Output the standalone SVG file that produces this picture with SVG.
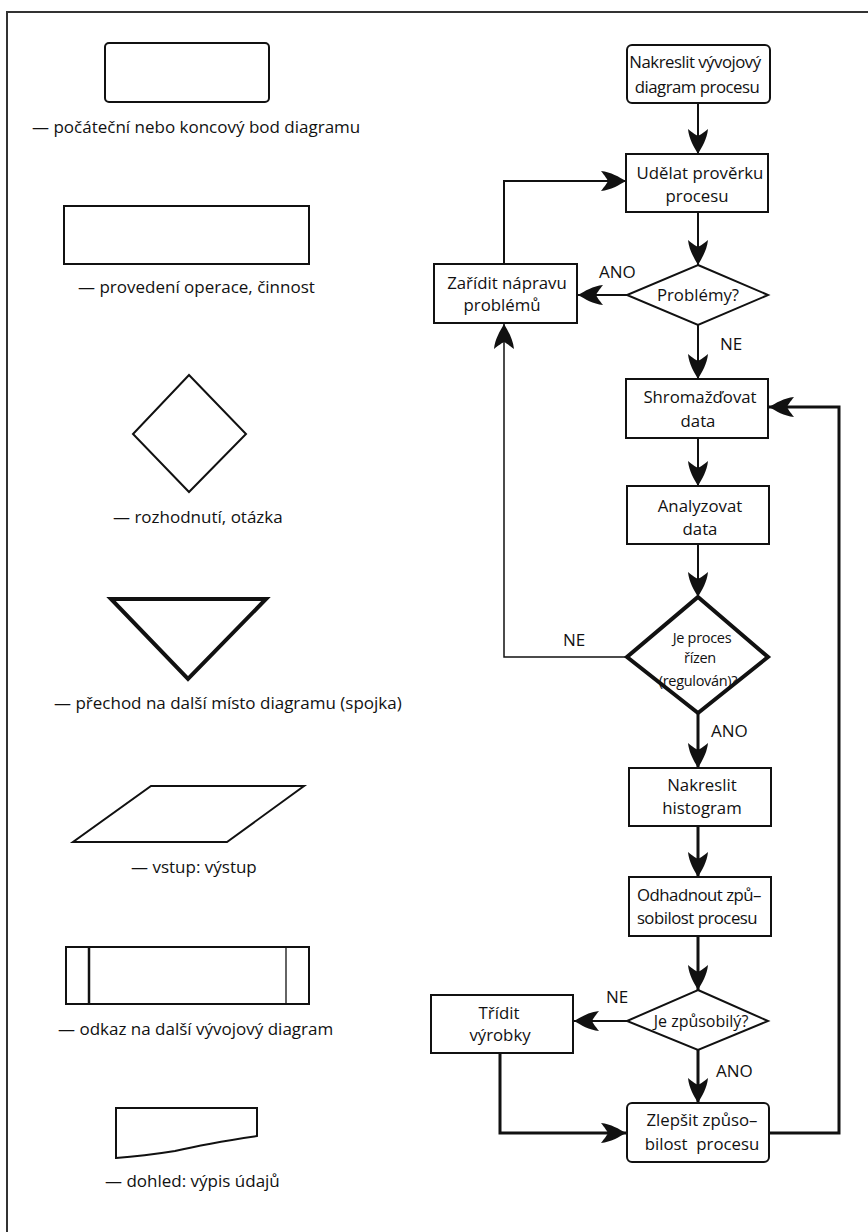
<svg xmlns="http://www.w3.org/2000/svg" width="868" height="1232" viewBox="0 0 868 1232">
  <style>
    .shape { fill: #fff; stroke: #111; stroke-width: 2; }
    .thick { fill: #fff; stroke: #111; stroke-width: 4; stroke-linejoin: miter; }
    .lbl { font-family: "Open Sans", "Liberation Sans", sans-serif; font-size: 17px; fill: #111; }
    .node { font-family: "Open Sans", "Liberation Sans", sans-serif; font-size: 16.8px; fill: #111; text-anchor: middle; }
    .tight { letter-spacing: -0.5px; }
    .small { font-size: 14.5px; letter-spacing: -0.3px; }
    .wire { fill: none; stroke: #111; stroke-width: 2; }
    .wire-thin { fill: none; stroke: #111; stroke-width: 1.5; }
    .wire-bold { fill: none; stroke: #111; stroke-width: 3; }
  </style>
  <defs>
    <marker id="arr" viewBox="-27 -11 29 22" refX="0" refY="0" markerWidth="29" markerHeight="22" markerUnits="userSpaceOnUse" orient="auto">
      <path d="M0,0 C-7,-4 -15,-9 -25,-10 C-21,-5 -19,-2 -18,0 C-19,2 -21,5 -25,10 C-15,9 -7,4 0,0 Z" fill="#111"/>
    </marker>
  </defs>
  <rect width="868" height="1232" fill="#fff"/>

  <!-- page frame -->
  <path d="M7,1232 V12 H868" fill="none" stroke="#333" stroke-width="2"/>

  <!-- legend of flowchart symbols -->
  <g id="legend-terminal">
    <rect class="shape" x="105" y="43" width="164" height="59" rx="4"/>
    <text class="lbl" x="32" y="133">— počáteční nebo koncový bod diagramu</text>
  </g>
  <g id="legend-process">
    <rect class="shape" x="64" y="206" width="245" height="58"/>
    <text class="lbl" x="78" y="293">— provedení operace, činnost</text>
  </g>
  <g id="legend-decision">
    <polygon class="shape" points="189,375 246,434 189,492 133,434"/>
    <text class="lbl" x="113" y="523">— rozhodnutí, otázka</text>
  </g>
  <g id="legend-connector">
    <polygon class="thick" points="111,599 266,599 188,679"/>
    <text class="lbl" x="54" y="709">— přechod na další místo diagramu (spojka)</text>
  </g>
  <g id="legend-io">
    <polygon class="shape" points="151,786 304,786 227,842 73,842"/>
    <text class="lbl" x="131" y="873">— vstup: výstup</text>
  </g>
  <g id="legend-subprocess">
    <rect class="shape" x="66" y="947" width="243" height="57"/>
    <line x1="89" y1="947" x2="89" y2="1004" stroke="#111" stroke-width="2.5"/>
    <line x1="286" y1="947" x2="286" y2="1004" stroke="#111" stroke-width="1.3"/>
    <text class="lbl" x="58" y="1035">— odkaz na další vývojový diagram</text>
  </g>
  <g id="legend-display">
    <path class="shape" d="M116,1108 H257 V1136 C230,1140 200,1145 175,1151 C150,1155 130,1157 116,1158 Z"/>
    <text class="lbl" x="105" y="1187">— dohled: výpis údajů</text>
  </g>

  <!-- connectors -->
  <g id="connectors">
    <path class="wire" d="M698,103 V154" marker-end="url(#arr)"/>
    <path class="wire" d="M698,212 V265" marker-end="url(#arr)"/>
    <path class="wire" d="M627,295 H578" marker-end="url(#arr)"/>
    <path class="wire" d="M504,264 V181 H626" marker-end="url(#arr)"/>
    <path class="wire" d="M698,325 V379" marker-end="url(#arr)"/>
    <path class="wire" d="M698,438 V486" marker-end="url(#arr)"/>
    <path class="wire" d="M698,544 V597" marker-end="url(#arr)"/>
    <path class="wire-thin" d="M627,657 H504 V324" marker-end="url(#arr)"/>
    <path class="wire-bold" d="M698,713 V768" marker-end="url(#arr)"/>
    <path class="wire-bold" d="M698,826 V877" marker-end="url(#arr)"/>
    <path class="wire-bold" d="M698,936 V990" marker-end="url(#arr)"/>
    <path class="wire" d="M627,1021 H574" marker-end="url(#arr)"/>
    <path class="wire-bold" d="M698,1050 V1103" marker-end="url(#arr)"/>
    <path class="wire-bold" d="M500,1053 V1133 H626" marker-end="url(#arr)"/>
    <path class="wire-bold" d="M769,1133 H839 V407 H769" marker-end="url(#arr)"/>
    <text class="lbl" x="599" y="278">ANO</text>
    <text class="lbl" x="720" y="350">NE</text>
    <text class="lbl" x="563" y="646">NE</text>
    <text class="lbl" x="711" y="737">ANO</text>
    <text class="lbl" x="606" y="1003">NE</text>
    <text class="lbl" x="716" y="1077">ANO</text>
  </g>

  <!-- process flowchart -->
  <g id="n-draw-flowchart">
    <rect class="shape" x="627" y="45" width="143" height="58" rx="5"/>
    <text class="node tight" x="695" y="68">Nakreslit vývojový</text>
    <text class="node tight" x="697" y="93">diagram procesu</text>
  </g>
  <g id="n-review">
    <rect class="shape" x="626" y="154" width="142" height="58"/>
    <text class="node" x="700" y="179">Udělat prověrku</text>
    <text class="node" x="697" y="202">procesu</text>
  </g>
  <g id="n-problems">
    <polygon class="shape" points="698,265 768,295 698,325 627,295"/>
    <text class="node" x="698" y="301">Problémy?</text>
  </g>
  <g id="n-fix">
    <rect class="shape" x="434" y="264" width="143" height="59"/>
    <text class="node" x="507" y="289">Zařídit nápravu</text>
    <text class="node" x="502" y="311">problémů</text>
  </g>
  <g id="n-collect">
    <rect class="shape" x="626" y="379" width="142" height="59"/>
    <text class="node" x="700" y="403">Shromažďovat</text>
    <text class="node" x="698" y="427">data</text>
  </g>
  <g id="n-analyze">
    <rect class="shape" x="627" y="486" width="142" height="58"/>
    <text class="node" x="700" y="512">Analyzovat</text>
    <text class="node" x="700" y="535">data</text>
  </g>
  <g id="n-controlled">
    <polygon class="thick" points="698,597 768,657 698,713 627,657"/>
    <text class="node small" x="702" y="643">Je proces</text>
    <text class="node small" x="700" y="663">řízen</text>
    <text class="node small" x="698" y="686">(regulován)?</text>
  </g>
  <g id="n-histogram">
    <rect class="shape" x="629" y="768" width="142" height="58"/>
    <text class="node" x="702" y="791">Nakreslit</text>
    <text class="node" x="702" y="814">histogram</text>
  </g>
  <g id="n-estimate">
    <rect class="shape" x="629" y="877" width="142" height="59" stroke-width="2.5"/>
    <text class="node tight" x="699" y="901">Odhadnout způ–</text>
    <text class="node tight" x="697" y="924">sobilost procesu</text>
  </g>
  <g id="n-capable">
    <polygon class="shape" points="698,990 768,1021 698,1050 627,1021"/>
    <text class="node" x="701" y="1027" style="font-size:16px">Je způsobilý?</text>
  </g>
  <g id="n-sort">
    <rect class="shape" x="431" y="995" width="142" height="58"/>
    <text class="node" x="499" y="1019">Třídit</text>
    <text class="node" x="500" y="1041">výrobky</text>
  </g>
  <g id="n-improve">
    <rect class="shape" x="627" y="1103" width="142" height="59" rx="5"/>
    <text class="node" x="702" y="1126">Zlepšit způso–</text>
    <text class="node" x="702" y="1150" xml:space="preserve">bilost  procesu</text>
  </g>
</svg>
